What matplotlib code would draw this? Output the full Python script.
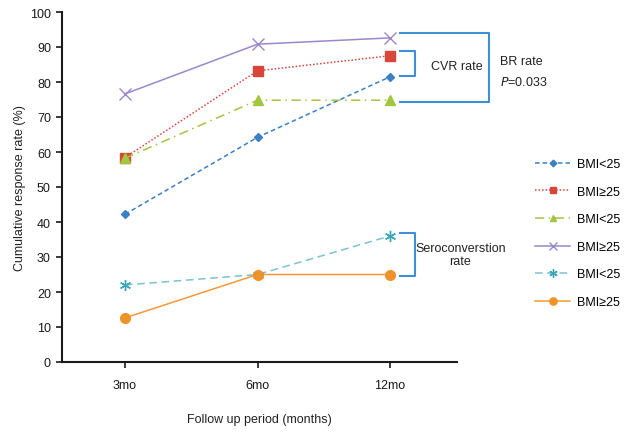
import numpy as np
import matplotlib
matplotlib.use("Agg")
import matplotlib.pyplot as plt

plt.rcParams['font.family'] = ['Liberation Sans', 'DejaVu Sans']

periods = ["3mo", "6mo", "12mo"]
labels = ["BMI<25", "BMI\u226525", "BMI<25", "BMI\u226525", "BMI<25", "BMI\u226525"]

cvr_low = [42.2, 64.2, 81.5]
cvr_high = [58.4, 83.2, 87.5]
br_low = [58.2, 74.8, 74.8]
br_high = [76.6, 90.8, 92.6]
sero_low = [22.0, 25.0, 36.0]
sero_high = [12.6, 25.0, 25.0]

series = [cvr_low, cvr_high, br_low, br_high, sero_low, sero_high]
styles = [
    dict(color='#3a80c4', ls=(0, (3, 2)), marker='D', ms=4.5, mfc='#3a80c4', mec='#3a80c4'),
    dict(color='#d8453b', ls=(0, (1, 1.3)), marker='s', ms=6.5, mfc='#d8453b', mec='#d8453b'),
    dict(color='#a3c63f', ls=(0, (6, 3, 1, 3)), marker='^', ms=6.5, mfc='#a3c63f', mec='#a3c63f'),
    dict(color='#9b88c9', ls='-', marker='x', ms=8, mew=1.0),
    dict(color='#7cc3cf', ls=(0, (5, 3)), marker=(6, 2, 0), ms=8, mew=1.0, mec='#3aa6b8'),
    dict(color='#f29a35', ls='-', marker='o', ms=7, mfc='#f0922a', mec='#f0922a'),
]

fig = plt.figure(figsize=(6.32, 4.35), dpi=100)
ax = fig.add_axes([62 / 632, 1 - 363 / 435, (457 - 62) / 632, 350 / 435])

x = np.arange(len(periods))
handles = []
for vals, st, lab in zip(series, styles, labels):
    h, = ax.plot(x, vals, lw=1.1, label=lab, **st)
    handles.append(h)

ax.set_xlim(-0.475, 2.505)
ax.set_ylim(0, 100)
ax.set_yticks(range(0, 101, 10))
ax.set_xticks(x)
ax.set_xticklabels(periods)
for s in ['top', 'right']:
    ax.spines[s].set_visible(False)
for s in ['left', 'bottom']:
    ax.spines[s].set_linewidth(1.5)
    ax.spines[s].set_color('#1a1a1a')
ax.tick_params(direction='out', length=4, width=1.2, labelsize=9, colors='#1a1a1a', pad=4)
ax.tick_params(axis='x', pad=8)
ax.set_ylabel("Cumulative response rate (%)", fontsize=9, color='#222222', labelpad=3)
ax.set_xlabel("Follow up period (months)", fontsize=9, color='#222222', labelpad=16)

# brackets
bc = '#3d8fd6'
def bracket(x0, x1, y0, y1):
    ax.plot([x0, x1, x1, x0], [y0, y0, y1, y1], color=bc, lw=1.5, clip_on=False)

bracket(2.075, 2.75, 94.0, 74.3)
bracket(2.075, 2.19, 88.9, 81.7)
bracket(2.075, 2.19, 36.9, 24.6)

ax.text(2.5, 84.5, "CVR rate", fontsize=9, color='#222222', ha='center', va='center')
ax.text(2.83, 86.0, "BR rate", fontsize=9, color='#222222', ha='left', va='center')
ax.text(2.83, 80.0, "$P$=0.033", fontsize=9, color='#222222', ha='left', va='center')
ax.text(2.53, 30.8, "Seroconverstion\nrate", fontsize=9, color='#222222', ha='center',
        va='center', linespacing=1.15)

fig.legend(handles=handles, labels=labels, loc='upper left', bbox_to_anchor=(530 / 632, 1 - 154 / 435),
           frameon=False, fontsize=9, handlelength=2.8, labelspacing=1.25, handletextpad=0.6,
           borderaxespad=0, markerscale=0.75)

fig.savefig("out.png", dpi=100)
